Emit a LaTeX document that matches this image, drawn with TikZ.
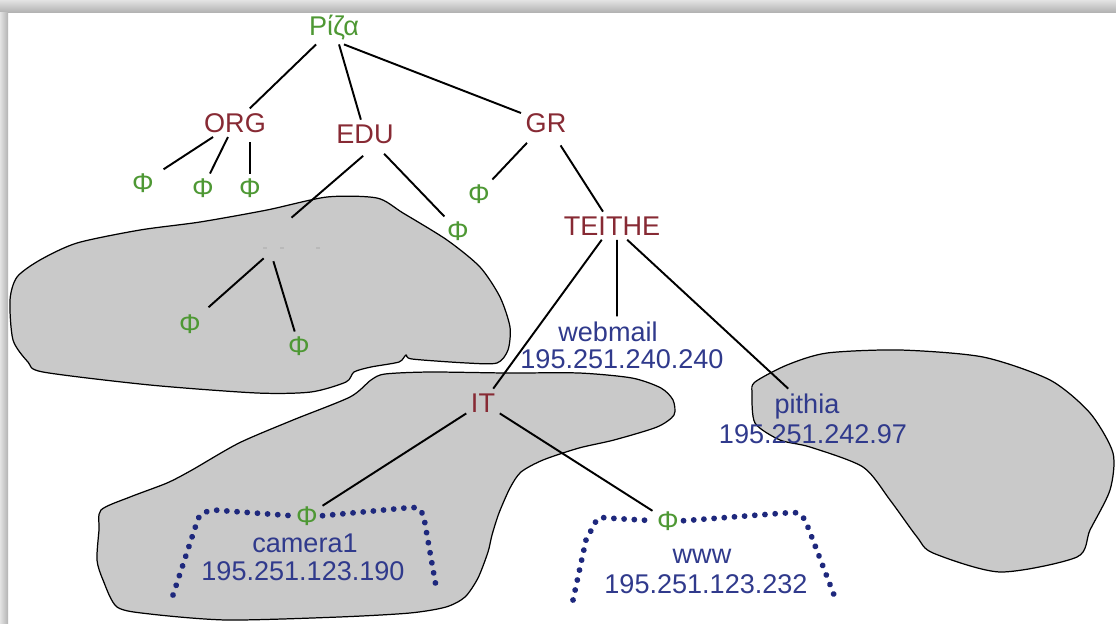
\documentclass[tikz,border=0pt]{standalone}
\usepackage{fontspec}
\setmainfont{Liberation Sans}
\usetikzlibrary{calc}
\definecolor{leafgreen}{RGB}{78,152,52}
\definecolor{domred}{RGB}{135,42,52}
\definecolor{hostblue}{RGB}{48,58,140}
\definecolor{dotnavy}{RGB}{30,40,125}
\definecolor{zonegray}{RGB}{201,201,201}
\begin{document}
\begin{tikzpicture}[x=0.02cm, y=-0.02cm,
  txt/.style={inner sep=2.5pt, anchor=base, font=\fontsize{15.4pt}{18pt}\selectfont},
  dom/.style={txt, text=domred},
  leaf/.style={txt, text=leafgreen},
  host/.style={txt, text=hostblue},
  link/.style={line width=1.1pt, black},
  zone/.style={fill=zonegray, draw=black, line width=0.7pt},
  dotline/.style={dotnavy, line width=3.3pt, line cap=round, dash pattern=on 0.01pt off 5.8pt},
]
\useasboundingbox (0,0) rectangle (1116,623);
% page with a soft frame shadow along the top and left edges
\fill[white] (0,0) rectangle (1116,623);
\shade[top color=gray!22, bottom color=gray!60] (0,0) rectangle (1116,12);
\shade[left color=gray!22, right color=gray!60] (0,12) rectangle (8,623);

% zones
\draw[zone] plot[smooth cycle, tension=0.45] coordinates {
  (10,300) (17,277) (40,260) (77,243) (140,230) (200,222) (267,210) (327,197)
  (377,198) (403,213) (447,240) (480,267) (500,297) (510,327) (508,350)
  (497,363) (467,363) (412,359) (406,355) (399,362) (371,367) (354,372)
  (346,382) (311,392) (257,393) (150,385) (43,372) (28,362) (13,340)};
\draw[zone] plot[smooth cycle, tension=0.45] coordinates {
  (371,380) (385,374) (430,372) (507,373) (579,373) (632,378) (661,388)
  (673,400) (674,415) (657,427) (614,440) (579,448) (543,460) (521,472)
  (510,488) (499,513) (492,535) (488,552) (478,578) (465,597) (446,607)
  (410,613) (339,617) (227,620) (150,614) (117,607) (103,580) (97,560)
  (99,530) (101,510) (130,497) (167,483) (192,470) (239,443) (293,420) (350,397)};
\draw[zone] plot[smooth cycle, tension=0.45] coordinates {
  (752,393) (755,382) (787,365) (827,353) (900,350) (983,357) (1050,380)
  (1090,413) (1113,453) (1110,490) (1090,530) (1077,557) (1000,572)
  (933,553) (917,537) (890,500) (863,467) (810,447) (780,440) (755,423)};

% tree labels
\node[leaf] (root) at (334,35) {Ρίζα};
\node[dom] (org) at (235,132) {ORG};
\node[dom] (edu) at (365,143) {EDU};
\node[dom] (gr) at (546,132) {GR};
\node[leaf] (o1) at (143,192) {Φ};
\node[leaf] (o2) at (203,197) {Φ};
\node[leaf] (o3) at (250,197) {Φ};
\node[leaf] (g1) at (479,203) {Φ};
\node[leaf] (e1) at (458,240) {Φ};
\node[inner sep=0, minimum width=0.72cm, minimum height=0.8cm] (hid) at (282,238) {};
\node[leaf] (h1) at (190,333) {Φ};
\node[leaf] (h2) at (299,355) {Φ};
\node[dom] (teithe) at (612,235) {TEITHE};
\node[host, inner sep=1pt] (webmail) at (608,341) {webmail};
\node[host, inner sep=1pt] (webmailip) at (622,368) {195.251.240.240};
\node[dom] (it) at (483,412) {IT};
\node[host] (pithia) at (807,413) {pithia};
\node[host] (pithiaip) at (813,443) {195.251.242.97};
\node[leaf] (camphi) at (307,525) {Φ};
\node[host] (camera) at (305,552) {camera1};
\node[host] (cameraip) at (303,580) {195.251.123.190};
\node[leaf] (wwwphi) at (668,530) {Φ};
\node[host] (www) at (702,563) {www};
\node[host] (wwwip) at (706,593) {195.251.123.232};

% faint marks left where a label was erased
\foreach \mx in {265,282,318}
  \draw[gray!55, line width=0.6pt] (\mx-2,248) -- (\mx+2,248);

% tree links
\draw[link] (root) -- (org);
\draw[link] (root) -- (edu);
\draw[link] (root.-60) -- (gr);
\draw[link, shorten >=0.12cm] (org) -- (o1);
\draw[link] (org) -- (o2);
\draw[link, shorten <=0.1cm] (org.south -| o3) -- (o3);
\draw[link, shorten <=0.24cm] (edu.-63) -- (hid.65);
\draw[link, shorten <=0.16cm] (edu) -- (e1);
\draw[link, shorten >=0.08cm] (hid.south west) -- (h1);
\draw[link, shorten <=0.06cm] (hid.-115) -- (h2);
\draw[link, shorten <=0.16cm] (gr) -- (g1);
\draw[link, shorten <=0.2cm] (gr) -- (teithe);
\draw[link] (teithe) -- (it);
\draw[link, line width=0.9pt, shorten >=0.06cm] ([xshift=0.1cm]teithe.south) -- ([xshift=0.18cm]webmail.north);
\draw[link] (teithe) -- (pithia);
\draw[link] (it) -- (camphi);
\draw[link] (it) -- (wwwphi);

% dotted host brackets
\draw[dotline] (173,595) -- (196,525) .. controls (200,513) .. (214,510) -- (camphi.west);
\draw[dotline] (camphi.east) -- (405,508) .. controls (420,507) .. (424,518) -- (437,592);
\draw[dotline] (573,600) -- (586,540) -- (594,525) .. controls (598,517) .. (608,518) -- (wwwphi.west);
\draw[dotline] (wwwphi.east) -- (785,513) .. controls (800,512) .. (806,522) -- (834,595);
\end{tikzpicture}
\end{document}
